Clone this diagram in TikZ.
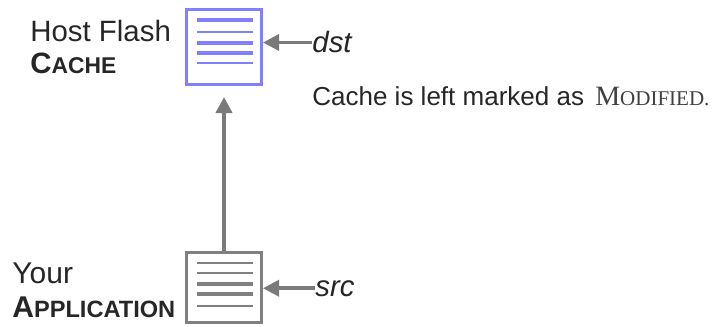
\documentclass[tikz,border=0pt]{standalone}
\usepackage{fontspec}
\setmainfont{Liberation Sans}
\newfontfamily\oldserif{Liberation Serif}
\usetikzlibrary{arrows.meta}

\definecolor{cacheblue}{RGB}{128,128,255}
\definecolor{docgray}{RGB}{128,128,128}
\definecolor{arrowgray}{RGB}{122,122,122}

\begin{document}
\begin{tikzpicture}[x=0.5pt,y=-0.5pt]
    \tikzset{docbox/.style={draw, line width=1.5pt, minimum width=37.5pt, inner sep=0pt, fill=white},
             txt/.style={inner sep=0pt, text=black!85, font=\fontsize{14.7}{16}\selectfont},
             pointer/.style={draw=arrowgray, line width=1.75pt, -{Triangle[width=8pt,length=8pt]}}}
    \useasboundingbox (0,0) rectangle (716,326);

    % the two documents
    \node[docbox, draw=cacheblue, minimum height=37.5pt] (cache) at (224,47) {};
    \node[docbox, draw=docgray, minimum height=35pt] (app) at (224,287.5) {};
    \foreach \dy/\w in {-27/2pt,-15/1.1pt,-4/2pt,6/2pt,16/1.1pt}
        \draw[cacheblue, line width=\w] ([shift={(-27,\dy)}]cache.center) -- ([shift={(29,\dy)}]cache.center);
    \foreach \dy/\w in {-24.5/1.1pt,-14.5/1.1pt,-3.5/2pt,6.5/2pt,18.5/1.1pt}
        \draw[docgray, line width=\w] ([shift={(-27,\dy)}]app.center) -- ([shift={(29,\dy)}]app.center);

    % labels
    \node[txt, anchor=base west, align=left] (cachename) at (30,74) {Host Flash\\{\bfseries C{\fontsize{11.4}{16}\selectfont ACHE}}};
    \node[txt, anchor=base west, align=left, font=\fontsize{15}{17}\selectfont] (appname) at (12,317) {Your\\{\bfseries A{\fontsize{11.8}{17}\selectfont PPLICATION}}};
    \node[txt, anchor=base west, font=\fontsize{14.7}{16}\selectfont\itshape] (dst) at (312,53) {dst};
    \node[txt, anchor=base west, font=\fontsize{14.7}{16}\selectfont\itshape] (src) at (315,296) {src};
    \node[txt, anchor=base west, font=\fontsize{13}{16}\selectfont] (note) at (312,105) {Cache is left marked as\hspace{2pt} {\oldserif\color{black!75}\fontsize{14}{16}\selectfont M{\fontsize{10.5}{16}\selectfont ODIFIED.}}};

    % arrows
    \draw[pointer] (dst.west) -- (dst.west -| cache.east);
    \draw[pointer] (src.west) -- (src.west -| app.east);
    \draw[pointer, line width=2.2pt, shorten >=5.5pt] (app.north) -- (cache.south);

\end{tikzpicture}
\end{document}
